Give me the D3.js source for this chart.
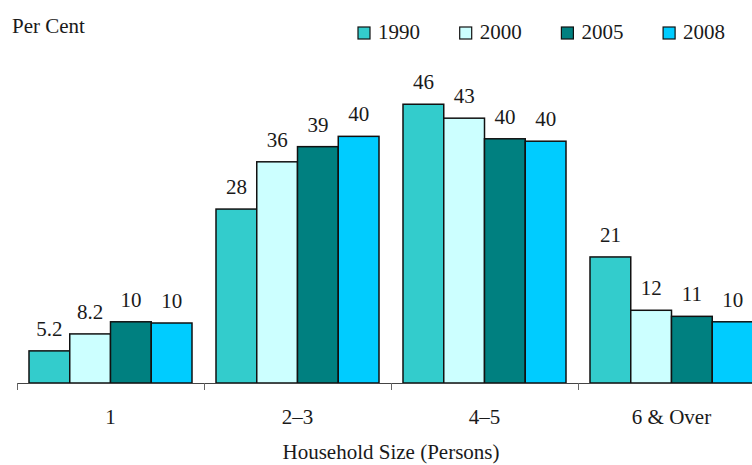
<!DOCTYPE html>
<html>

<head>
  <meta charset="utf-8">
  <title>Household Size</title>
  <script type="text/javascript" src="https://cdn.jsdelivr.net/npm/d3@7"></script>
  <style type="text/css">
    body { margin: 0; background: #fff; }
    svg text { font-family: "Liberation Serif", "Times New Roman", Times, serif; fill: #1a1a1a; }
  </style>
</head>

<body>
  <script type="text/javascript">

    // Data
    const categories = ["1", "2\u20133", "4\u20135", "6 & Over"];
    const years = ["1990", "2000", "2005", "2008"];
    const colors = ["#33CCCC", "#CCFFFF", "#008080", "#00CCFF"];
    const values1990 = [5.3, 28.7, 46.0, 20.8];
    const values2000 = [8.1, 36.5, 43.7, 12.0];
    const values2005 = [10.1, 39.0, 40.3, 11.0];
    const values2008 = [9.9, 40.7, 39.9, 10.1];
    const labels1990 = ["5.2", "28", "46", "21"];
    const labels2000 = ["8.2", "36", "43", "12"];
    const labels2005 = ["10", "39", "40", "11"];
    const labels2008 = ["10", "40", "40", "10"];

    const series = [
      { year: years[0], values: values1990, labels: labels1990 },
      { year: years[1], values: values2000, labels: labels2000 },
      { year: years[2], values: values2005, labels: labels2005 },
      { year: years[3], values: values2008, labels: labels2008 }
    ];

    // Width and height
    const w = 752;
    const h = 465;
    const baseY = 383;

    const svg = d3.select("body")
      .append("svg")
      .attr("width", w)
      .attr("height", h)
      .attr("font-family", "Liberation Serif, serif");

    // Scales
    const x = d3.scaleBand()
      .domain(categories)
      .range([17, 765]);

    const xInner = d3.scaleBand()
      .domain(years)
      .range([12, x.bandwidth() - 12]);

    const y = d3.scaleLinear()
      .domain([0, 50])
      .range([baseY, baseY - 50 * 6.06]);

    const color = d3.scaleOrdinal().domain(years).range(colors);

    // Bars
    const groups = svg.selectAll("g.series")
      .data(series)
      .enter()
      .append("g")
      .attr("class", "series");

    const rows = function (s) {
      return s.values.map(function (v, i) {
        return { year: s.year, cat: categories[i], value: v, label: s.labels[i] };
      });
    };

    groups.selectAll("rect")
      .data(rows)
      .enter()
      .append("rect")
      .attr("x", d => x(d.cat) + xInner(d.year))
      .attr("y", d => y(d.value))
      .attr("width", xInner.bandwidth())
      .attr("height", d => y(0) - y(d.value))
      .attr("fill", d => color(d.year))
      .attr("stroke", "#111")
      .attr("stroke-width", 1.5);

    // Value labels
    groups.selectAll("text")
      .data(rows)
      .enter()
      .append("text")
      .attr("x", d => x(d.cat) + xInner(d.year) + xInner.bandwidth() / 2)
      .attr("y", d => y(d.value) - 15)
      .attr("text-anchor", "middle")
      .attr("font-size", 21)
      .text(d => d.label);

    // X axis
    const axis = svg.append("g")
      .attr("transform", "translate(0," + baseY + ")")
      .call(d3.axisBottom(x).tickSize(0).tickPadding(26));
    axis.attr("font-family", null);
    axis.select(".domain").attr("stroke", "#444");
    axis.selectAll(".tick text")
      .attr("font-size", 21)
      .attr("fill", "#1a1a1a");

    // Tick marks between categories
    svg.selectAll("line.sep")
      .data(categories)
      .enter()
      .append("line")
      .attr("class", "sep")
      .attr("x1", d => x(d) + 0.5)
      .attr("x2", d => x(d) + 0.5)
      .attr("y1", baseY)
      .attr("y2", baseY + 7)
      .attr("stroke", "#666");

    // Axis titles
    svg.append("text")
      .attr("x", 12)
      .attr("y", 33)
      .attr("font-size", 21)
      .text("Per Cent");

    svg.append("text")
      .attr("x", 391)
      .attr("y", 459)
      .attr("text-anchor", "middle")
      .attr("font-size", 21)
      .text("Household Size (Persons)");

    // Legend
    const legend = svg.selectAll("g.legend")
      .data(years)
      .enter()
      .append("g")
      .attr("class", "legend")
      .attr("transform", (d, i) => "translate(" + (358 + i * 101.7) + ",27)");

    legend.append("rect")
      .attr("width", 12)
      .attr("height", 12)
      .attr("fill", d => color(d))
      .attr("stroke", "#111")
      .attr("stroke-width", 1.2);

    legend.append("text")
      .attr("x", 20)
      .attr("y", 12)
      .attr("font-size", 21)
      .text(d => d);

  </script>
</body>

</html>
